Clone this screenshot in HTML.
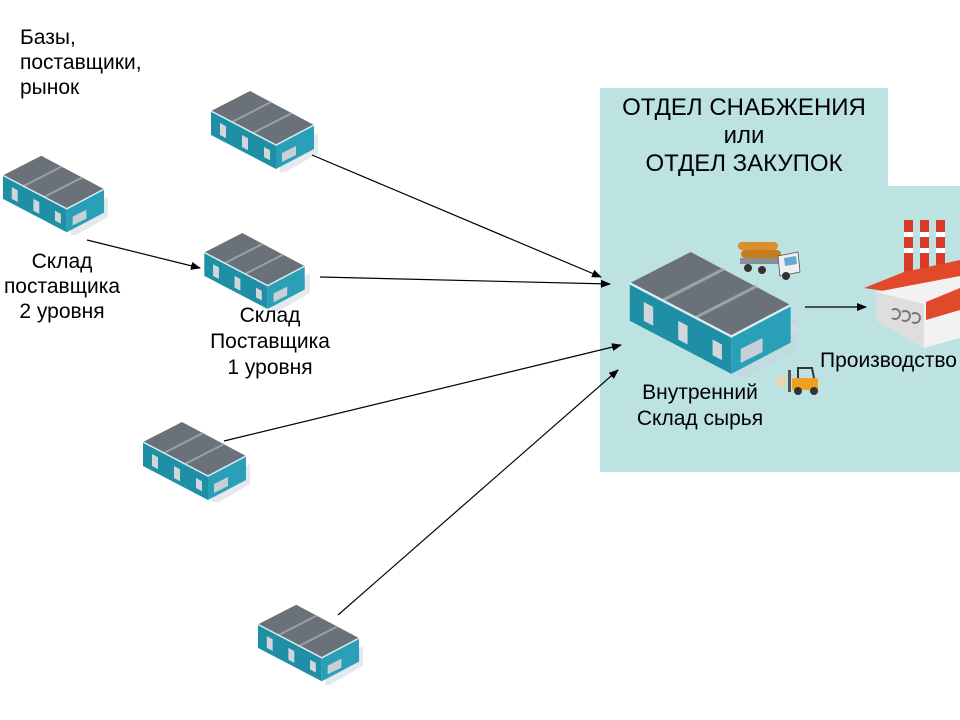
<!DOCTYPE html>
<html><head><meta charset="utf-8"><style>
body{margin:0;width:960px;height:720px;background:#fff;position:relative;overflow:hidden;font-family:"Liberation Sans",sans-serif;color:#000}
.t{position:absolute;font-size:21px;line-height:25px;white-space:nowrap}
.c{text-align:center}
</style></head><body>
<svg width="960" height="720" style="position:absolute;left:0;top:0">
<defs>
<symbol id="wh" viewBox="0 0 110 80">
<polygon points="68,58 110,36 110,56 68,80" fill="#c8d4dc" opacity=".5" transform="translate(4,4)"/>
<polygon points="3,20 68,54 68,78 3,44" fill="#1f8fa6"/>
<polygon points="68,54 106,34 106,58 68,78" fill="#2a9fb8"/>
<polygon points="3,20 42,0 106,34 68,54" fill="#6b7179"/>
<line x1="24" y1="31" x2="63" y2="11" stroke="#9aa0a6" stroke-width="2"/>
<line x1="45" y1="42" x2="84" y2="22" stroke="#9aa0a6" stroke-width="2"/>
<polyline points="3,20 68,54 106,34" fill="none" stroke="#d8eef4" stroke-width="1.5"/>
<rect x="12" y="32" width="6" height="12" fill="#d0d6da" transform="skewY(28)" transform-origin="12 32"/>
<rect x="34" y="44" width="6" height="12" fill="#d0d6da" transform="skewY(28)" transform-origin="34 44"/>
<rect x="56" y="56" width="6" height="10" fill="#d0d6da" transform="skewY(28)" transform-origin="56 56"/>
<polygon points="74,62 88,55 88,64 74,71" fill="#c6d0d6"/>
</symbol>
<marker id="a" markerWidth="10" markerHeight="8" refX="9" refY="4" orient="auto" markerUnits="userSpaceOnUse"><path d="M0,0 L10,4 L0,8z" fill="#000"/></marker>
</defs>
<path d="M600,88 H888 V186 H960 V472 H600Z" fill="#bde2e2"/>
<polygon points="700,340 760,300 800,330 740,370" fill="#d6e6ee"/>
<use href="#wh" x="208" y="90" width="110" height="82"/>
<use href="#wh" x="0" y="155" width="108" height="80"/>
<use href="#wh" x="200" y="233" width="110" height="78"/>
<use href="#wh" x="140" y="422" width="110" height="80"/>
<use href="#wh" x="255" y="603" width="108" height="82"/>
<use href="#wh" x="625" y="252" width="172" height="125"/>
<g transform="translate(738,238)">
<rect x="0" y="4" width="40" height="8" rx="4" fill="#d9902a"/><rect x="3" y="12" width="40" height="8" rx="4" fill="#c47d1c"/>
<rect x="2" y="20" width="40" height="6" fill="#8a9096"/>
<polygon points="40,18 60,14 62,34 42,38" fill="#eef0f2" stroke="#555" stroke-width=".8"/>
<polygon points="46,20 58,18 59,26 47,28" fill="#6aa8d0"/>
<circle cx="10" cy="30" r="4" fill="#333"/><circle cx="24" cy="32" r="4" fill="#333"/><circle cx="48" cy="38" r="4" fill="#333"/>
</g>
<g transform="translate(776,366)">
<rect x="0" y="10" width="10" height="10" fill="#e8d6b0"/>
<rect x="12" y="4" width="3" height="22" fill="#555"/>
<rect x="16" y="12" width="26" height="12" rx="2" fill="#f0a020"/>
<polyline points="22,12 22,2 36,2 38,12" fill="none" stroke="#333" stroke-width="2"/>
<circle cx="22" cy="25" r="4" fill="#333"/><circle cx="38" cy="25" r="4" fill="#333"/>
</g>
<g transform="translate(864,220)">
<rect x="40" y="0" width="9" height="60" fill="#d93a2a"/><rect x="56" y="0" width="9" height="60" fill="#d93a2a"/><rect x="72" y="0" width="9" height="60" fill="#d93a2a"/>
<g fill="#fff"><rect x="40" y="12" width="9" height="5"/><rect x="56" y="12" width="9" height="5"/><rect x="72" y="12" width="9" height="5"/><rect x="40" y="28" width="9" height="5"/><rect x="56" y="28" width="9" height="5"/><rect x="72" y="28" width="9" height="5"/></g>
<polygon points="0,68 40,52 96,40 96,58 40,74" fill="#e04a2a"/>
<polygon points="12,72 96,56 96,118 60,128 12,100" fill="#f2f2f2"/>
<polygon points="12,72 60,84 60,128 12,100" fill="#dedede"/>
<polygon points="62,82 96,68 96,90 62,100" fill="#e04a2a"/>
<path d="M28,90 a5,5 0 1 1 0,8 M38,92 a5,5 0 1 1 0,8 M48,94 a5,5 0 1 1 0,8" fill="none" stroke="#777" stroke-width="2"/>
</g>
<g stroke="#000" stroke-width="1.2" marker-end="url(#a)">
<line x1="312" y1="155" x2="601" y2="277"/>
<line x1="87" y1="240" x2="200" y2="268"/>
<line x1="320" y1="277" x2="610" y2="284"/>
<line x1="224" y1="441" x2="621" y2="345"/>
<line x1="338" y1="615" x2="618" y2="370"/>
<line x1="805" y1="307" x2="866" y2="307"/>
</g>
</svg>
<div class="t" style="left:20px;top:25px">Базы,<br>поставщики,<br>рынок</div>
<div class="t c" style="left:-2px;width:128px;top:249px">Склад<br>поставщика<br>2 уровня</div>
<div class="t c" style="left:200px;width:140px;top:303px;line-height:26px">Склад<br>Поставщика<br>1 уровня</div>
<div class="t c" style="left:600px;width:288px;top:94px;font-size:24px;line-height:28px">ОТДЕЛ СНАБЖЕНИЯ<br>или<br>ОТДЕЛ ЗАКУПОК</div>
<div class="t c" style="left:610px;width:180px;top:380px;line-height:26px">Внутренний<br>Склад сырья</div>
<div class="t" style="left:820px;top:348px">Производство</div>
</body></html>
